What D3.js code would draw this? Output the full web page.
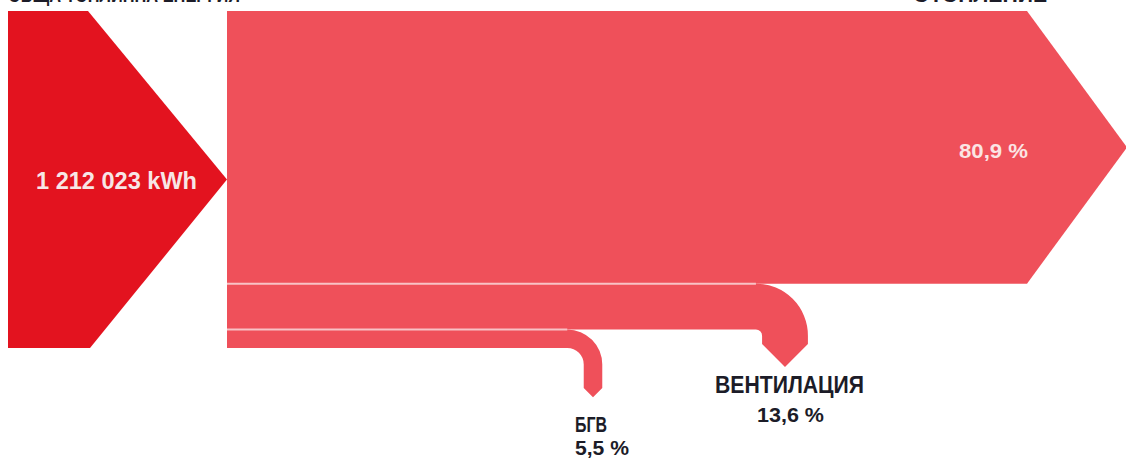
<!DOCTYPE html>
<html>
<head>
<meta charset="utf-8">
<script src="https://cdn.jsdelivr.net/npm/d3@7"></script>
<style>
html,body{margin:0;padding:0;background:#fff;}
svg{display:block;}
text{font-family:"Liberation Sans",Arial,sans-serif;font-weight:bold;}
</style>
</head>
<body>
<svg id="chart" width="1126" height="458"></svg>
<script>
// ---- data ----
const sourceLabel = "ОБЩА ТОПЛИННА ЕНЕРГИЯ";
const totalKWh = 1212023;
const categories = ["ОТОПЛЕНИЕ", "ВЕНТИЛАЦИЯ", "БГВ"];
const shares = [80.9, 13.6, 5.5];

// ---- layout ----
const svg = d3.select("#chart");
const y = d3.scaleLinear().domain([0, 100]).range([11, 348]);
const x = d3.scaleLinear().domain([0, 1]).range([227, 1027]);

const cDark = "#e3131f", cFlow = "#ef505a", cSep = "#f8c2c6", cText = "#1c1c28";

let acc = 0;
const bands = categories.map((c, i) => {
  const b = {name: c, value: shares[i], y0: y(acc), y1: y(acc + shares[i])};
  acc += shares[i];
  return b;
});

const fmtTotal = v => d3.format(",")(v).replace(/,/g, " ");
const fmtPct = v => d3.format(".1f")(v).replace(".", ",") + " %";

// source arrow
const sy0 = y(0), sy1 = y(100), sm = (sy0 + sy1) / 2;
svg.append("path")
  .attr("d", `M8,${sy0} L88,${sy0} L${x(0)},${sm} L90,${sy1} L8,${sy1} Z`)
  .attr("fill", cDark);

// main (heating) arrow
const hb = bands[0];
svg.append("path")
  .attr("d", `M${x(0)},${hb.y0} L${x(1)},${hb.y0} L1127,${(hb.y0 + hb.y1) / 2} L${x(1)},${hb.y1} L${x(0)},${hb.y1} Z`)
  .attr("fill", cFlow);

// turning flows
const turns = [null, {cx: 785, R: 52, yEnd: 344}, {cx: 593, R: 35, yEnd: 388}];
bands.forEach((b, i) => {
  if (i === 0) return;
  const t = turns[i];
  const w = b.y1 - b.y0;
  const xl = t.cx - w / 2, xr = t.cx + w / 2;
  const R = t.R, r = Math.max(R - w, 0.1);
  const d = [
    `M${x(0)},${b.y0}`,
    `L${xr - R},${b.y0}`,
    `A${R},${R} 0 0 1 ${xr},${b.y0 + R}`,
    `L${xr},${t.yEnd}`,
    `L${t.cx},${t.yEnd + w / 2}`,
    `L${xl},${t.yEnd}`,
    `L${xl},${b.y1 + r}`,
    `A${r},${r} 0 0 0 ${xl - r},${b.y1}`,
    `L${x(0)},${b.y1}`, "Z"
  ].join(" ");
  svg.append("path").attr("d", d).attr("fill", cFlow);
  svg.append("line")
    .attr("x1", x(0)).attr("x2", xr - R)
    .attr("y1", b.y0).attr("y2", b.y0)
    .attr("stroke", cSep).attr("stroke-width", 2);
});

// texts (top titles are cut off by the top edge, as in the reference)
svg.append("text").attr("x", 8).attr("y", 2).attr("font-size", 20)
  .attr("textLength", 232).attr("lengthAdjust", "spacingAndGlyphs")
  .attr("fill", cText).text(sourceLabel);
svg.append("text").attr("x", 913).attr("y", 2).attr("font-size", 20)
  .attr("textLength", 134).attr("lengthAdjust", "spacingAndGlyphs")
  .attr("fill", cText).text(categories[0]);

svg.append("text").attr("x", 36).attr("y", 189).attr("font-size", 23)
  .attr("textLength", 161).attr("lengthAdjust", "spacingAndGlyphs")
  .attr("fill", "#f7e6e6").text(fmtTotal(totalKWh) + " kWh");

svg.append("text").attr("x", 959).attr("y", 158).attr("font-size", 21)
  .attr("textLength", 69).attr("lengthAdjust", "spacingAndGlyphs")
  .attr("fill", "#fbe4e4").text(fmtPct(shares[0]));

svg.append("text").attr("x", 715).attr("y", 393).attr("font-size", 24)
  .attr("textLength", 149).attr("lengthAdjust", "spacingAndGlyphs")
  .attr("fill", cText).text(categories[1]);
svg.append("text").attr("x", 757).attr("y", 422).attr("font-size", 21)
  .attr("textLength", 67).attr("lengthAdjust", "spacingAndGlyphs")
  .attr("fill", cText).text(fmtPct(shares[1]));

svg.append("text").attr("x", 575).attr("y", 432).attr("font-size", 22)
  .attr("textLength", 32).attr("lengthAdjust", "spacingAndGlyphs")
  .attr("fill", cText).text(categories[2]);
svg.append("text").attr("x", 575).attr("y", 455).attr("font-size", 21)
  .attr("textLength", 54).attr("lengthAdjust", "spacingAndGlyphs")
  .attr("fill", cText).text(fmtPct(shares[2]));
</script>
</body>
</html>
